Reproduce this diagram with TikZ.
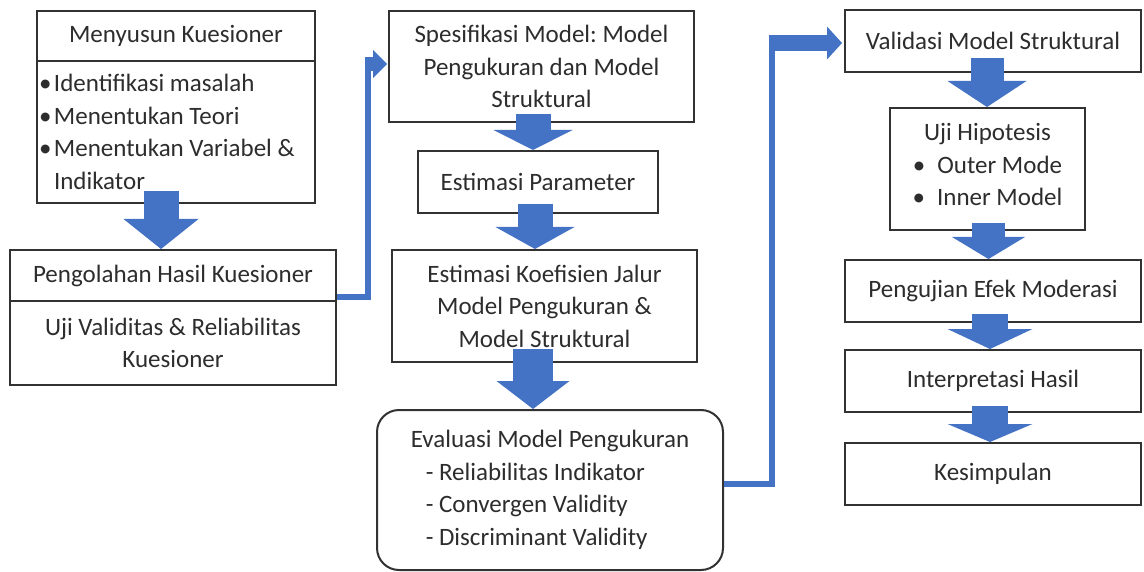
\documentclass[tikz,border=0pt]{standalone}
\usepackage{fontspec}
\setmainfont{Carlito}
\usetikzlibrary{arrows.meta,calc}
\definecolor{ablue}{RGB}{68,114,196}
\definecolor{bordergray}{RGB}{50,50,50}
\definecolor{txtgray}{RGB}{45,45,45}
\tikzset{
  box/.style={draw=bordergray, line width=2pt, fill=white, inner sep=0pt, text=txtgray,
    font=\fontsize{25}{32.5}\selectfont, align=center,
    execute at begin node={\spaceskip=0pt\relax\xspaceskip=0pt\relax\frenchspacing}},
  blk/.style n args={3}{ablue, line width=#1, -{Triangle[length=#3, width=#2, line width=0pt]}},
  link/.style={ablue, line width=5.5pt, line join=miter}
}
\begin{document}
\begin{tikzpicture}[x=1pt,y=-1pt]
\useasboundingbox (0,0) rectangle (1144,572);

% column 1
\node[box, minimum width=278pt, minimum height=50pt] (b1a) at (176,36) {Menyusun Kuesioner};
\node[box, minimum width=278pt, minimum height=142pt, text width=274pt, align=left] (b1b) at (176,132)
  {\makebox[15pt][l]{\textbullet}Identifikasi masalah\\
   \makebox[15pt][l]{\textbullet}Menentukan Teori\\
   \makebox[15pt][l]{\textbullet}Menentukan Variabel \&\\
   \hspace*{15pt}Indikator};
\node[box, minimum width=326pt, minimum height=51pt] (b2a) at (173,275.5) {Pengolahan Hasil Kuesioner};
\node[box, minimum width=326pt, minimum height=84pt] (b2b) at (173,343) {Uji Validitas \& Reliabilitas\\Kuesioner};

% column 2
\node[box, minimum width=305pt, minimum height=111pt] (spes) at (541.5,66.5) {Spesifikasi Model: Model\\Pengukuran dan Model\\Struktural};
\node[box, minimum width=240pt, minimum height=62pt] (ep) at (538,182) {Estimasi Parameter};
\node[box, minimum width=305pt, minimum height=112pt] (ek) at (544.5,306) {Estimasi Koefisien Jalur\\Model Pengukuran \&\\Model Struktural};
\node[box, rounded corners=22pt, minimum width=346pt, minimum height=160pt, align=left] (ev) at (550,490)
  {Evaluasi Model Pengukuran\\
   \hspace*{15pt}- Reliabilitas Indikator\\
   \hspace*{15pt}- Convergen Validity\\
   \hspace*{15pt}- Discriminant Validity};

% column 3
\node[box, minimum width=296pt, minimum height=62pt] (val) at (993,41) {Validasi Model Struktural};
\node[box, minimum width=195pt, minimum height=122pt] (uji) at (987.5,169)
  {Uji Hipotesis\\ \textbullet\hspace{12pt}Outer Mode\\ \textbullet\hspace{12pt}Inner Model\\[-24pt]\mbox{}};
\node[box, minimum width=296pt, minimum height=62pt] (pen) at (993,291) {Pengujian Efek Moderasi};
\node[box, minimum width=296pt, minimum height=62pt] (intp) at (993,381) {Interpretasi Hasil};
\node[box, minimum width=296pt, minimum height=62pt] (kes) at (993,474) {Kesimpulan};

% elbow connectors
\coordinate (k1) at (368,64);
\draw[link] ($(b2a.south east)+(0,-5)$) -| (k1);
\draw[blk={14pt}{28pt}{14pt}] ($(k1)+(-3,0)$) -- ($(spes.west |- k1)+(-1,0)$);

\coordinate (k2) at (772,43);
\draw[link] ($(ev.east)+(0,-6)$) -| (k2);
\draw[blk={16pt}{33pt}{15pt}] ($(k2)+(-3,0)$) -- ($(val.west |- k2)+(-2,0)$);

% block arrows
\draw[blk={35pt}{75pt}{30pt}] ($(b1b.south)+(-15,-13)$) -- ($(b2a.north)+(-12,0)$);
\draw[blk={35pt}{79pt}{20pt}] ($(spes.south)+(-8.5,-9)$) -- ($(ep.north)+(-5,0)$);
\draw[blk={35pt}{79pt}{22pt}] ($(ep.south)+(-3,-10)$) -- ($(ek.north)+(-9.5,0)$);
\draw[blk={40pt}{73pt}{28pt}] ($(ek.south)+(-11.5,-14)$) -- ($(ev.north)+(-17,0)$);
\draw[blk={33pt}{79pt}{26pt}] ($(val.south)+(-6,-15)$) -- ($(uji.north)+(-0.5,0)$);
\draw[blk={33pt}{73pt}{22pt}] ($(uji.south)+(1,-8)$) -- ($(pen.north)+(-4.5,0)$);
\draw[blk={36pt}{85pt}{20pt}] ($(pen.south)+(-3,-9)$) -- ($(intp.north)+(-3,0)$);
\draw[blk={36pt}{85pt}{18pt}] ($(intp.south)+(-3,-7)$) -- ($(kes.north)+(-3,0)$);
\end{tikzpicture}
\end{document}
